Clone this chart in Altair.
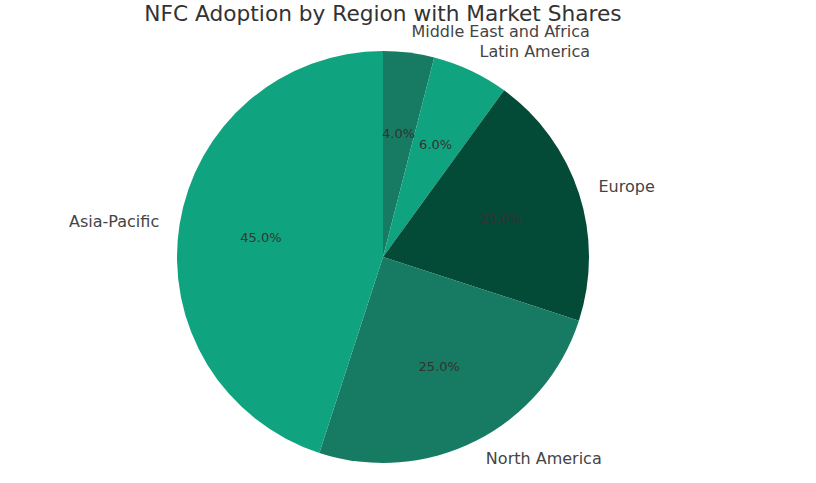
import altair as alt
import pandas as pd

regions = ["Middle East and Africa", "Latin America", "Europe", "North America", "Asia-Pacific"]
shares = [4.0, 6.0, 20.0, 25.0, 45.0]
colors = ["#177a62", "#10a37f", "#034a37", "#177a62", "#10a37f"]

df = pd.DataFrame({"region": regions, "share": shares, "order": list(range(len(regions)))})

R = 206
theta_scale = alt.Scale(domain=[0, 100], range=[0, 6.283185307179586])
color_scale = alt.Scale(domain=regions, range=colors)

base = alt.Chart(df).transform_window(
    cum="sum(share)", frame=[None, 0], sort=[{"field": "order"}]
).transform_calculate(
    start="datum.cum - datum.share",
    mid="datum.cum - datum.share / 2",
    pct="format(datum.share, '.1f') + '%'",
)

arcs = base.mark_arc(radius=R, stroke=None).encode(
    theta=alt.Theta("start:Q", scale=theta_scale),
    theta2="cum:Q",
    color=alt.Color("region:N", scale=color_scale, legend=None),
)

label_font = "DejaVu Sans"

labels_right = base.transform_filter("datum.mid <= 50").mark_text(
    radius=R * 1.1, align="left", baseline="middle", fontSize=16,
    font=label_font, color="#444444",
).encode(theta=alt.Theta("mid:Q", scale=theta_scale), text="region:N")

labels_left = base.transform_filter("datum.mid > 50").mark_text(
    radius=R * 1.1, align="right", baseline="middle", fontSize=16,
    font=label_font, color="#444444",
).encode(theta=alt.Theta("mid:Q", scale=theta_scale), text="region:N")

pcts = base.mark_text(
    radius=R * 0.6, align="center", baseline="middle", fontSize=13,
    font=label_font, color="#333333",
).encode(theta=alt.Theta("mid:Q", scale=theta_scale), text="pct:N")

chart = alt.layer(arcs, labels_right, labels_left, pcts).properties(
    width=766,
    height=452,
    title=alt.TitleParams(
        "NFC Adoption by Region with Market Shares",
        fontSize=21.7, font=label_font, fontWeight="normal", color="#333333",
        anchor="middle", baseline="bottom", offset=6, dy=30,
    ),
    padding={"left": 0, "right": 50, "top": 31, "bottom": 0},
    autosize="none",
).configure_view(stroke=None)

chart.save("out.html", embed_options={"renderer": "svg", "actions": False})
